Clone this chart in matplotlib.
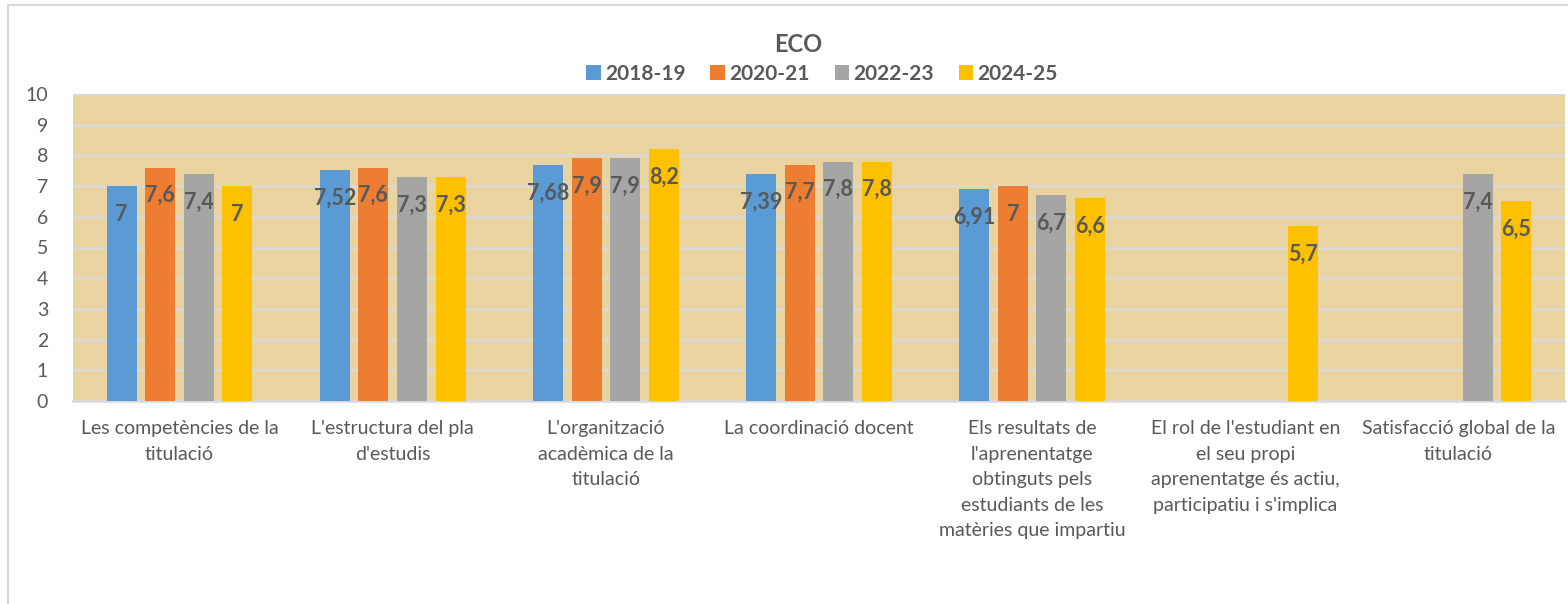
import numpy as np
import matplotlib
matplotlib.use("Agg")
import matplotlib.pyplot as plt
from matplotlib.patches import Rectangle

categories = [
    "Les competències de la\ntitulació",
    "L'estructura del pla\nd'estudis",
    "L'organització\nacadèmica de la\ntitulació",
    "La coordinació docent",
    "Els resultats de\nl'aprenentatge\nobtinguts pels\nestudiants de les\nmatèries que impartiu",
    "El rol de l'estudiant en\nel seu propi\naprenentatge és actiu,\nparticipatiu i s'implica",
    "Satisfacció global de la\ntitulació",
]
series_names = ["2018-19", "2020-21", "2022-23", "2024-25"]
v2018 = [7, 7.52, 7.68, 7.39, 6.91, np.nan, np.nan]
v2020 = [7.6, 7.6, 7.9, 7.7, 7, np.nan, np.nan]
v2022 = [7.4, 7.3, 7.9, 7.8, 6.7, np.nan, 7.4]
v2024 = [7, 7.3, 8.2, 7.8, 6.6, 5.7, 6.5]
series_values = [v2018, v2020, v2022, v2024]
colors = ["#5B9BD5", "#ED7D31", "#A5A5A5", "#FFC000"]
yticks = list(range(0, 11))

TXT = "#595959"
W, H = 1568, 604
fig = plt.figure(figsize=(W / 100, H / 100), dpi=100)
fig.patch.set_facecolor("white")

# outer chart border
fig.patches.append(Rectangle((8 / W, -0.1), 1.2, 1 - 5 / H + 0.1, transform=fig.transFigure,
                             fill=False, edgecolor="#D9D9D9", linewidth=1.5))

left, right, top, bottom = 73, 1565, 94, 401
ax = fig.add_axes([left / W, 1 - bottom / H, (right - left) / W, (bottom - top) / H])
ax.set_facecolor("#E9D3A0")

x = np.arange(len(categories))
bw = 0.141
step = 0.181
for i, (name, vals, c) in enumerate(zip(series_names, series_values, colors)):
    xs = x + (i - 1.5) * step
    ax.bar(xs, vals, width=bw, color=c, label=name, zorder=3)
    for xi, v in zip(xs, vals):
        if np.isnan(v):
            continue
        lab = ("%g" % v).replace(".", ",")
        ax.annotate(lab, (xi, v), xytext=(0, -28), textcoords="offset pixels",
                    ha="center", va="center", fontsize=15.5, fontweight="bold",
                    color=TXT, family="Lato", zorder=5)

ax.set_xlim(-0.5, len(categories) - 0.5)
ax.set_ylim(0, 10)
ax.set_yticks(yticks)
ax.yaxis.grid(True, color="#D9D9D9", linewidth=1.8, zorder=1)
ax.set_axisbelow(True)
for s in ["left", "right", "top"]:
    ax.spines[s].set_visible(False)
ax.spines["bottom"].set_color("#D9D9D9")
ax.spines["bottom"].set_linewidth(1.8)
ax.tick_params(axis="both", length=0)
ax.tick_params(axis="y", pad=18, labelsize=14, labelcolor=TXT)
ax.set_xticks(x)
ax.set_xticklabels(categories, fontsize=14, color=TXT, family="Lato", linespacing=1.6)
ax.tick_params(axis="x", pad=14)
for t in ax.get_yticklabels():
    t.set_family("Lato")

fig.text(798 / W, 1 - 44 / H, "ECO", ha="center", va="center", fontsize=17,
         fontweight="bold", color=TXT, family="Lato")
leg = fig.legend(loc="center", bbox_to_anchor=(822 / W, 1 - 74 / H), ncol=4, frameon=False,
                 handlelength=0.7, handleheight=0.7, handletextpad=0.2, columnspacing=1.2,
                 prop={"family": "Lato", "weight": "bold", "size": 15})
for t in leg.get_texts():
    t.set_color(TXT)

fig.savefig("out.png", dpi=100)
